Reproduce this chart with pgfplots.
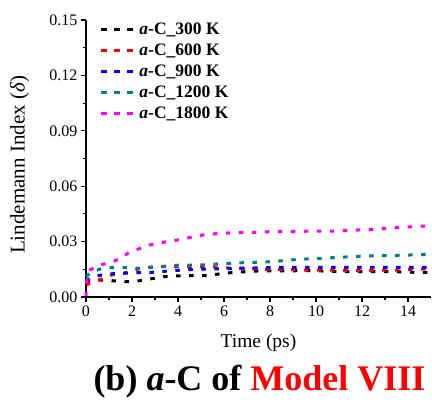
\documentclass[border=0pt]{standalone}
\usepackage{pgfplots}
\pgfplotsset{compat=1.18}
\usepackage{fontspec}
\setmainfont{Liberation Serif}
\definecolor{cteal}{RGB}{0,128,128}
\definecolor{cmag}{RGB}{255,0,255}
\begin{document}
\begin{tikzpicture}
\path[use as bounding box] (-86bp,-105bp) rectangle (346bp,297bp);
\begin{axis}[
  at={(0,0)}, anchor=origin,
  scale only axis, width=345bp, height=277bp,
  xmin=0, xmax=15, ymin=0, ymax=0.15,
  axis x line*=bottom, axis y line*=left,
  axis line style={line width=1.2bp, black},
  xtick={0,2,...,14}, ytick={0,0.03,...,0.15},
  minor x tick num=1, minor y tick num=1,
  tick align=outside, major tick length=5bp, minor tick length=3bp,
  tick style={line width=1.1bp, black},
  /pgf/number format/assume math mode=true,
  yticklabel style={/pgf/number format/fixed, /pgf/number format/fixed zerofill, /pgf/number format/precision=2},
  scaled y ticks=false,
  ticklabel style={font=\fontsize{16bp}{19bp}\selectfont},
  xlabel={Time (ps)},
  ylabel={Lindemann Index (\textit{δ})},
  xlabel style={font=\fontsize{19.5bp}{22bp}\selectfont, at={(axis description cs:0.5,-0.166)}, anchor=center},
  ylabel style={font=\fontsize{21bp}{24bp}\selectfont, at={(axis description cs:-0.193,0.477)}, anchor=center},
  legend style={draw=none, fill=none, at={(axis description cs:0.04,1.0)}, anchor=north west, yshift=-0.5bp,
    font=\fontsize{17.5bp}{20bp}\selectfont\bfseries, row sep=4bp, inner sep=0pt,
    nodes={inner xsep=3.5bp}},
  legend cell align=left,
  legend image code/.code={\draw[#1, dash pattern=on 6bp off 7bp, line cap=butt] (0bp,0bp) -- (33bp,0bp);},
  every axis plot/.append style={line width=3bp, dash pattern=on 4.5bp off 8.5bp, line cap=butt},
  clip=false,
]
\addplot[black] coordinates {
(0,0.0080) (0.1,0.0088) (0.64,0.0092) (1.16,0.0088) (1.77,0.0083) (2.32,0.0088) (2.86,0.0099)
(3.36,0.0110) (3.94,0.0114) (4.59,0.0116) (5.25,0.0116) (5.8,0.0125) (6.33,0.0132) (6.91,0.0137)
(7.49,0.0141) (8.07,0.0141) (8.72,0.0141) (9.38,0.0143) (9.96,0.0143) (10.54,0.0139) (11.12,0.0137)
(11.74,0.0137) (12.32,0.0137) (12.9,0.0137) (13.5,0.0137) (14.2,0.0134) (15,0.0134)};
\addlegendentry{\textit{a}-C\_300 K}
\addplot[red] coordinates {
(0,0.0065) (0.17,0.0074) (0.64,0.0096) (1.12,0.0119) (1.62,0.0128) (2.09,0.0146) (2.57,0.0161)
(3.14,0.0164) (3.72,0.0164) (4.6,0.0164) (5.17,0.0164) (5.75,0.0162) (6.4,0.0155) (6.99,0.0155)
(7.57,0.0150) (8.72,0.0150) (9.38,0.0146) (9.96,0.0146) (10.54,0.0146) (11.12,0.0143) (11.74,0.0143)
(12.32,0.0143) (12.9,0.0146) (13.5,0.0146) (14.2,0.0150) (15,0.0153)};
\addlegendentry{\textit{a}-C\_600 K}
\addplot[blue] coordinates {
(0,0.0085) (0.1,0.0095) (0.43,0.0114) (0.97,0.0125) (1.55,0.0128) (2.09,0.0132) (2.67,0.0132)
(3.22,0.0137) (3.8,0.0143) (4.16,0.0146) (4.74,0.0150) (5.32,0.0152) (5.9,0.0152) (6.48,0.0155)
(7.06,0.0157) (7.64,0.0159) (8.2,0.0159) (8.87,0.0161) (9.57,0.0161) (10.17,0.0161) (11.33,0.0161)
(12.49,0.0161) (13.8,0.0161) (15,0.0161)};
\addlegendentry{\textit{a}-C\_900 K}
\addplot[cteal] coordinates {
(0,0.0110) (0.25,0.0137) (0.72,0.0155) (1.22,0.0161) (1.8,0.0159) (2.38,0.0155) (2.96,0.0161)
(3.51,0.0168) (4.01,0.0172) (4.6,0.0173) (5.13,0.0174) (5.71,0.0179) (6.29,0.0182) (6.87,0.0186)
(7.45,0.0188) (8.0,0.0191) (8.61,0.0197) (9.23,0.0204) (9.81,0.0207) (10.39,0.0210) (10.97,0.0215)
(11.55,0.0218) (12.09,0.0222) (12.67,0.0224) (13.36,0.0224) (13.97,0.0227) (14.55,0.0229) (15,0.0230)};
\addlegendentry{\textit{a}-C\_1200 K}
\addplot[cmag] coordinates {
(0,0.0005) (0.03,0.0083) (0.17,0.0146) (0.58,0.0173) (1.07,0.0186) (1.51,0.0210) (1.88,0.0242)
(2.32,0.0262) (2.78,0.0282) (3.26,0.0294) (3.8,0.0305) (4.3,0.0316) (4.81,0.0330) (5.3,0.0340)
(5.9,0.0345) (6.48,0.0348) (7.06,0.0348) (7.71,0.0352) (8.32,0.0356) (8.9,0.0356) (9.52,0.0356)
(10.1,0.0357) (10.68,0.0357) (11.26,0.0359) (11.84,0.0363) (12.49,0.0366) (13.14,0.0372)
(13.68,0.0377) (14.26,0.0381) (15,0.0386)};
\addlegendentry{\textit{a}-C\_1800 K}
\end{axis}
\node[font=\fontsize{36bp}{40bp}\selectfont\bfseries] at (173.5bp,-85bp) {(b) \textit{a}-C of \textcolor{red}{Model VIII}};
\end{tikzpicture}
\end{document}
